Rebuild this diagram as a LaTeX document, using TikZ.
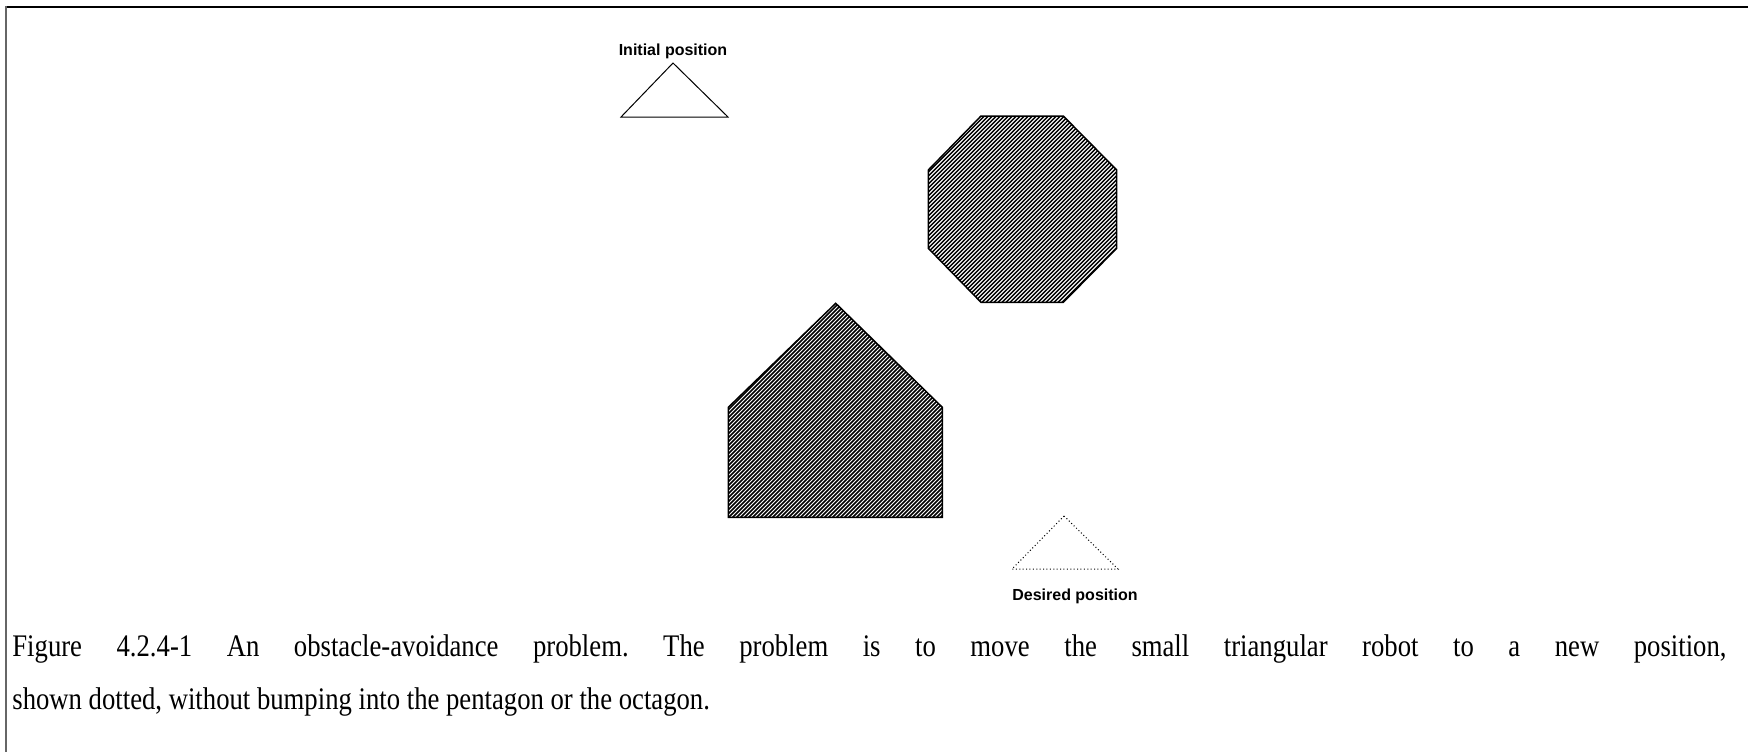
\documentclass[tikz,border=0pt]{standalone}
\usepackage{fontspec}
\setmainfont{Liberation Serif}
\newfontfamily\labfont{Liberation Sans}
\newfontfamily\capfont[FakeStretch=0.85]{Liberation Serif}
\begin{document}
\begin{tikzpicture}[x=0.5pt,y=-0.5pt,
  obstacle/.style={line width=0.75pt, line join=miter},
  hatch/.style={line width=0.75pt},
  posbox/.style={font=\labfont\bfseries\fontsize{8pt}{9pt}\selectfont, inner sep=0pt},
  robot/.style={line width=0.5pt},
  goal/.style={line width=0.5pt, dash pattern=on 0.5pt off 1.2pt}]
\useasboundingbox (0,0) rectangle (1748,752);
% frame
\draw[line width=1pt] (5,7) -- (1748,7);
\draw[line width=0.75pt, black!60] (6,6) -- (6,752);
% initial robot
\node[posbox] (initlab) at (673,51.5) {Initial position};
\draw[robot] (673,63) -- (728,117) -- (621,117) -- cycle;
% octagon
\begin{scope}
\clip (981,116) -- (1063.3,116) -- (1116.7,170) -- (1116.7,248.3) -- (1063.3,302.3) -- (981,302.3) -- (928.3,248.3) -- (928.3,170) -- cycle;
\foreach \i in {720.3,724.3,...,1104} \draw[hatch] (\i,320) -- ++(250,-250);
\end{scope}
\draw[obstacle] (981,116) -- (1063.3,116) -- (1116.7,170) -- (1116.7,248.3) -- (1063.3,302.3) -- (981,302.3) -- (928.3,248.3) -- (928.3,170) -- cycle;
% pentagon
\begin{scope}
\clip (835.7,303.3) -- (942.3,407.3) -- (942.3,517.3) -- (728.3,517.3) -- (728.3,407.3) -- cycle;
\foreach \i in {500,504,...,936} \draw[hatch] (\i,530) -- ++(240,-240);
\end{scope}
\draw[obstacle] (835.7,303.3) -- (942.3,407.3) -- (942.3,517.3) -- (728.3,517.3) -- (728.3,407.3) -- cycle;
% desired robot
\draw[goal] (1064,516) -- (1118,569) -- (1012,569) -- cycle;
\node[posbox] (goallab) at (1075,596) {Desired position};
% caption
\node[anchor=base west, inner sep=0pt, text width=857pt, align=justify,
  font=\capfont\fontsize{15.7pt}{26.8pt}\selectfont\frenchspacing] (caption) at (12,656)
  {Figure 4.2.4-1 An obstacle-avoidance problem. The problem is to move the small triangular robot to a new position,\linebreak shown dotted, without bumping into the pentagon or the octagon.};
\end{tikzpicture}
\end{document}
